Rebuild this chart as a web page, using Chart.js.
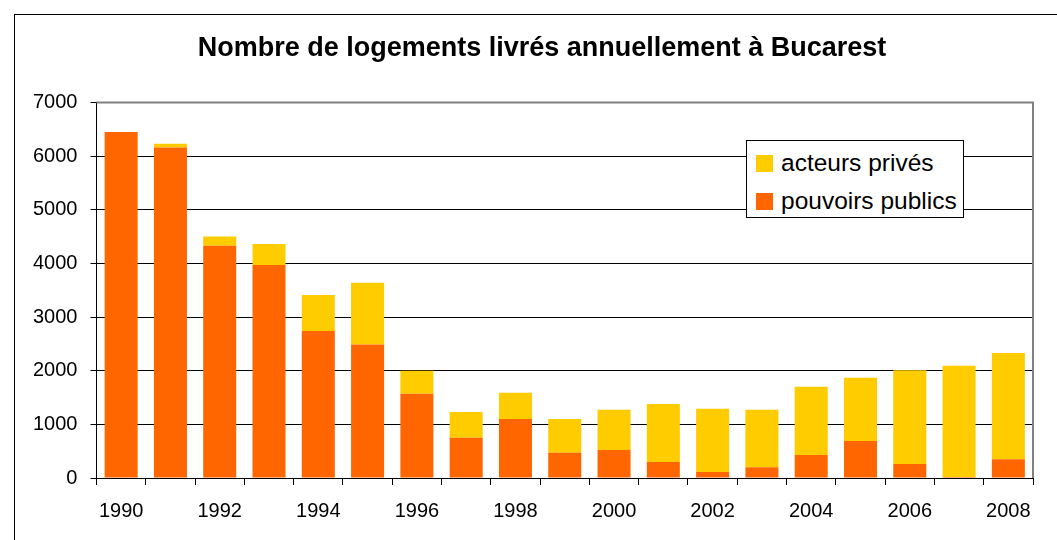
<!DOCTYPE html>
<html>
<head>
<meta charset="utf-8">
<script src="https://cdn.jsdelivr.net/npm/chart.js@4"></script>
<style>
    body { margin: 0; background: #fff; overflow: hidden; font-family: "Liberation Sans", Arial, sans-serif; }
    #frame { position: absolute; left: 14px; top: 14px; width: 1100px; height: 600px; border: 1px solid #000; }
    #chart { position: absolute; left: 0; top: 0; }
    #legend { position: absolute; left: 731px; top: 125px; width: 216px; height: 76px; border: 1px solid #000; background: #fff; }
    .item { position: absolute; left: 9px; font-size: 24.5px; line-height: 26px; color: #000; white-space: nowrap; }
    .item span { display: inline-block; width: 17px; height: 17px; margin-right: 8px; vertical-align: -1px; }
</style>
</head>
<body>
<div id="frame">
    <canvas id="chart" width="1053" height="525"></canvas>
    <div id="legend"></div>
</div>
<script>
const years = ['1990', '1991', '1992', '1993', '1994', '1995', '1996', '1997', '1998', '1999',
    '2000', '2001', '2002', '2003', '2004', '2005', '2006', '2007', '2008'];
const publicHousing = [6450, 6160, 4330, 3970, 2740, 2490, 1570, 750, 1100, 470,
    520, 300, 110, 200, 430, 690, 260, 20, 350];
const privateHousing = [0, 70, 170, 390, 670, 1150, 430, 480, 490, 630,
    750, 1080, 1180, 1070, 1270, 1180, 1750, 2070, 1980];
const yTicks = [0, 1000, 2000, 3000, 4000, 5000, 6000, 7000];

const font = "'Liberation Sans', Arial, sans-serif";

// gray frame on top and right side of the plot area
const plotFrame = {
    id: 'plotFrame',
    afterDraw(chart) {
        const {ctx, chartArea: a} = chart;
        ctx.save();
        ctx.strokeStyle = '#808080';
        ctx.lineWidth = 2;
        ctx.beginPath();
        ctx.moveTo(a.left, a.top);
        ctx.lineTo(a.right, a.top);
        ctx.lineTo(a.right, a.bottom);
        ctx.stroke();
        ctx.restore();
    }
};

const chart = new Chart(document.getElementById('chart'), {
    type: 'bar',
    data: {
        labels: years,
        datasets: [{
            label: 'pouvoirs publics',
            data: publicHousing,
            backgroundColor: '#FF6600',
            barPercentage: 1,
            categoryPercentage: 0.67
        }, {
            label: 'acteurs privés',
            data: privateHousing,
            backgroundColor: '#FFCC00',
            barPercentage: 1,
            categoryPercentage: 0.67
        }]
    },
    options: {
        responsive: false,
        animation: false,
        layout: {padding: {left: 5, right: 4, top: 0, bottom: 3}},
        scales: {
            x: {
                stacked: true,
                grid: {drawOnChartArea: false, tickLength: 7, color: '#000'},
                border: {color: '#000', width: 1},
                ticks: {
                    autoSkip: false,
                    maxRotation: 0,
                    padding: 14,
                    color: '#000',
                    font: {family: font, size: 20},
                    callback: (v, i) => i % 2 === 0 ? years[i] : ''
                }
            },
            y: {
                stacked: true,
                min: 0,
                max: 7000,
                afterBuildTicks: s => { s.ticks = yTicks.map(v => ({value: v})); },
                grid: {color: '#000', tickLength: 6},
                border: {color: '#000', width: 1},
                ticks: {
                    padding: 13,
                    color: '#000',
                    font: {family: font, size: 20},
                    callback: v => String(v)
                }
            },
            yRight: {
                position: 'right',
                grid: {display: false},
                border: {display: false},
                ticks: {display: false},
                afterFit: s => { s.width = 31; }
            }
        },
        plugins: {
            legend: {display: false},
            tooltip: {enabled: false},
            title: {
                display: true,
                text: 'Nombre de logements livrés annuellement à Bucarest',
                color: '#000',
                font: {family: font, size: 27, weight: 'bold'},
                padding: {top: 17, bottom: 38}
            }
        }
    },
    plugins: [plotFrame]
});

// legend box, yellow first as in the original
const legend = document.getElementById('legend');
[1, 0].forEach((d, row) => {
    const ds = chart.data.datasets[d];
    const el = document.createElement('div');
    el.className = 'item';
    el.style.top = (9 + row * 38) + 'px';
    el.innerHTML = '<span style="background:' + ds.backgroundColor + '"></span>' + ds.label;
    legend.appendChild(el);
});
</script>
</body>
</html>
